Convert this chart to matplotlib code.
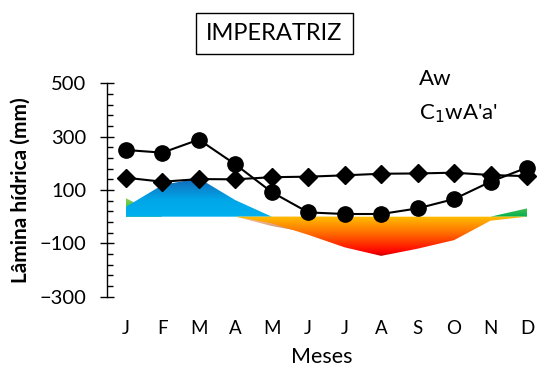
#!/usr/bin/env python3
"""
Water balance chart (Thornthwaite) for Imperatriz.
Circles: precipitation, diamonds: ETP, shaded areas: excess / deficit.
"""

import numpy as np
import matplotlib
matplotlib.use('Agg')
import matplotlib.pyplot as plt
from matplotlib.patches import PathPatch
from matplotlib.colors import LinearSegmentedColormap
from matplotlib.ticker import FixedLocator

plt.rcParams['font.family'] = ['Lato', 'DejaVu Sans']

# months and monthly values (mm)
months = ['J', 'F', 'M', 'A', 'M', 'J', 'J', 'A', 'S', 'O', 'N', 'D']
precip = [250, 240, 289, 196, 92, 16, 10, 10, 31, 66, 131, 184]
etp = [146, 131, 141, 140, 148, 150, 155, 161, 162, 165, 156, 152]
excess = [37, 119, 144, 62, 0, 0, 0, 0, 0, 0, 0, 0]
replenish = [69, 0, 0, 0, 0, 0, 0, 0, 0, 0, 0, 31]
withdrawal = [0, 0, 0, 0, -35, -60, 0, 0, 0, 0, 0, 0]
deficit = [0, 0, 0, 0, -25, -68, -115, -147, -120, -88, -15, 0]
yticks = [-300, -100, 100, 300, 500]


def gradient_area(ax, x, y, colors, vmin, vmax, z):
    """fill between 0 and y with a vertical colour gradient"""
    poly = ax.fill_between(x, 0, y, facecolor='none', edgecolor='none', lw=0)
    path = poly.get_paths()[0]
    patch = PathPatch(path, transform=ax.transData, facecolor='none', edgecolor='none')
    ax.add_patch(patch)
    cmap = LinearSegmentedColormap.from_list('g', colors)
    grad = np.linspace(0, 1, 256).reshape(-1, 1)
    im = ax.imshow(grad, extent=[x[0], x[-1], vmin, vmax], origin='lower',
                   cmap=cmap, aspect='auto', interpolation='bilinear', zorder=z)
    im.set_clip_path(patch)
    poly.remove()


def create_plot():
    fig = plt.figure(figsize=(5.37, 3.78), dpi=100)
    ax = fig.add_axes([0.1993, 0.2151, 0.799, 0.5645])
    x = np.arange(1, 13)

    # areas (bottom colour first, top colour last)
    gradient_area(ax, x, replenish, [(0.0, '#00B050'), (1.0, '#92D050')], 0, 70, 1)
    gradient_area(ax, x, withdrawal, [(0.0, '#C8784A'), (1.0, '#FAD2B4')], -60, 0, 2)
    gradient_area(ax, x, excess, [(0.0, '#00B0F0'), (0.45, '#00A6E8'), (1.0, '#1468B8')], 0, 145, 3)
    gradient_area(ax, x, deficit,
                  [(0.0, '#B00000'), (0.12, '#FF0000'), (0.6, '#FF7000'), (1.0, '#FFC000')],
                  -150, 0, 4)

    ax.plot(x, precip, 'k-o', linewidth=1.5, markersize=11, zorder=5, clip_on=False)
    ax.plot(x, etp, 'k-D', linewidth=1.5, markersize=9, zorder=6, clip_on=False)

    ax.set_xlim(0.48, 12.25)
    ax.set_ylim(-300, 500)
    ax.set_xticks(x)
    ax.set_xticklabels(months, fontsize=13.5)
    ax.tick_params(axis='x', length=0, pad=17)
    ax.yaxis.set_major_locator(FixedLocator(yticks))
    ax.yaxis.set_minor_locator(FixedLocator(np.arange(-300, 501, 40)))
    ax.tick_params(axis='y', which='major', direction='inout', length=10, width=1, labelsize=14.5, pad=10)
    ax.tick_params(axis='y', which='minor', direction='in', length=4.5, width=1)

    for s in ['top', 'right', 'bottom']:
        ax.spines[s].set_visible(False)
    ax.spines['left'].set_linewidth(1)

    ax.set_xlabel('Meses', fontsize=15.5, labelpad=7)
    ax.set_ylabel('Lâmina hídrica (mm)', fontsize=15, fontweight='bold', labelpad=6)

    fig.text(0.511, 0.912, 'IMPERATRIZ', fontsize=17, ha='center', va='center',
             bbox=dict(boxstyle='square,pad=0.42', facecolor='white', edgecolor='black', linewidth=1))
    fig.text(0.780, 0.775, 'Aw', fontsize=16, ha='left', va='baseline')
    fig.text(0.780, 0.683, 'C$_1$wA\'a\'', fontsize=16, ha='left', va='baseline')

    return fig


def main():
    fig = create_plot()
    fig.savefig('out.png', dpi=100)


if __name__ == '__main__':
    main()
